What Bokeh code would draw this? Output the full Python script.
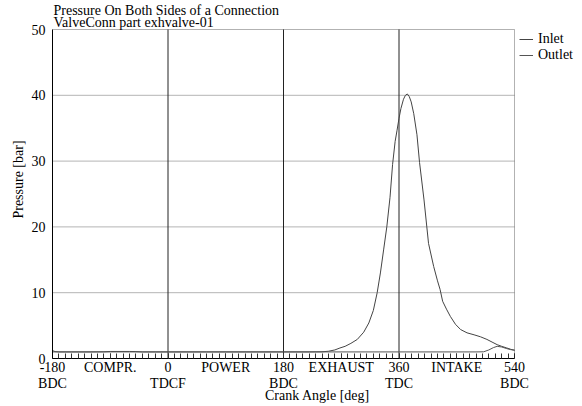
from bokeh.plotting import figure
from bokeh.models import FixedTicker, Legend, LegendItem, Range1d, Label, BoxAnnotation
from bokeh.embed import file_html
from bokeh.resources import INLINE

FONT = "Liberation Serif"

title_lines = ["Pressure On Both Sides of a Connection", "ValveConn part exhvalve-01"]
x_label = "Crank Angle [deg]"
y_label = "Pressure [bar]"
x_lo, x_hi = -180, 540
y_lo, y_hi = 0, 50
x_ticks = [-180, -90, 0, 90, 180, 270, 360, 450, 540]
x_tick_labels = ["-180\nBDC", "COMPR.", "0\nTDCF", "POWER", "180\nBDC",
                 "EXHAUST", "360\nTDC", "INTAKE", "540\nBDC"]
x_minor = list(range(-180, 541, 10))
y_ticks = [0, 10, 20, 30, 40, 50]
cycle_marks = [0, 180, 360]

inlet_angle = [-180, -176, -170, -150, -120, -100, -90, -60, -50, -40, -20, 0, 60, 120,
               180, 220, 240, 250, 260, 268, 276, 285, 295, 305, 313, 320, 326, 331,
               336, 341, 346, 350, 354, 357, 360, 363, 367, 370, 373, 376, 379, 383,
               388, 392, 399, 406, 414, 420, 424, 428, 434, 440, 448, 456, 466, 477,
               487, 497, 505, 513, 520, 528, 534, 540]
inlet_p = [1.2, 1.05, 1.0, 1.0, 1.0, 1.02, 1.07, 1.07, 1.05, 1.0, 1.0, 1.0, 1.0, 1.0,
           1.0, 1.0, 1.02, 1.1, 1.3, 1.6, 1.85, 2.3, 2.9, 4.0, 5.4, 7.3, 10.0, 13.0,
           16.5, 20.0, 24.5, 29.5, 33.0, 34.7, 36.5, 38.0, 39.4, 40.0, 40.2, 39.8, 39.0, 37.2,
           34.0, 29.8, 24.1, 17.5, 14.0, 11.8, 10.5, 8.7, 7.5, 6.4, 5.2, 4.4, 3.9, 3.6,
           3.3, 2.9, 2.5, 2.1, 1.85, 1.6, 1.4, 1.26]

outlet_angle = [-180, 0, 180, 360, 480, 492, 500, 507, 513, 520, 528, 534, 540]
outlet_p = [1.0, 1.0, 1.0, 1.0, 1.0, 1.02, 1.3, 1.65, 1.85, 1.75, 1.5, 1.35, 1.26]

# layout (pixels): plot box 52..514 x 29..358 inside a 582x406 page
W, H = 582, 406
BOX_L, BOX_R, BOX_T, BOX_B = 52, 514, 29, 358
x_end = x_hi + (W - BOX_R) * (x_hi - x_lo) / (BOX_R - BOX_L)
y_end = y_hi + BOX_T * (y_hi - y_lo) / (BOX_B - BOX_T)

p = figure(width=W, height=H, output_backend="svg", toolbar_location=None,
           x_range=Range1d(x_lo, x_end), y_range=Range1d(y_lo, y_end), title=None,
           min_border_left=BOX_L, min_border_right=0, min_border_top=0,
           min_border_bottom=H - BOX_B)
p.background_fill_color = "white"
p.border_fill_color = "white"
p.outline_line_color = None
p.xgrid.visible = False
p.ygrid.visible = False

# axes
xa = p.xaxis[0]
xa.bounds = (x_lo, x_hi)
xa.ticker = FixedTicker(ticks=x_ticks, minor_ticks=x_minor)
xa.major_label_overrides = dict(zip(x_ticks, x_tick_labels))
xa.major_tick_in = 5
xa.major_tick_out = 0
xa.minor_tick_in = 5
xa.minor_tick_out = 0
xa.major_tick_line_color = "#333333"
xa.minor_tick_line_color = "#333333"
xa.axis_line_color = "black"
xa.major_label_standoff = 1
xa.major_label_text_font = FONT
xa.major_label_text_font_size = "14px"
xa.major_label_text_color = "black"
xa.major_label_text_line_height = 1.1
xa.axis_label = x_label
xa.axis_label_text_font = FONT
xa.axis_label_text_font_size = "14px"
xa.axis_label_text_font_style = "normal"
xa.axis_label_text_color = "black"
xa.axis_label_standoff = -6

ya = p.yaxis[0]
ya.bounds = (y_lo, y_hi)
ya.ticker = FixedTicker(ticks=y_ticks)
ya.major_tick_in = 0
ya.major_tick_out = 0
ya.minor_tick_in = 0
ya.minor_tick_out = 0
ya.axis_line_color = "black"
ya.major_label_standoff = 7
ya.major_label_text_font = FONT
ya.major_label_text_font_size = "14px"
ya.major_label_text_color = "black"
ya.axis_label = y_label
ya.axis_label_text_font = FONT
ya.axis_label_text_font_size = "14px"
ya.axis_label_text_font_style = "normal"
ya.axis_label_text_color = "black"
ya.axis_label_standoff = 3

# horizontal grid lines (inner ticks only) and cycle marks, limited to the plot box
inner_y = y_ticks[1:-1]
p.segment(x0=[x_lo] * len(inner_y), x1=[x_hi] * len(inner_y), y0=inner_y, y1=inner_y,
          line_color="#b4b4b4", line_width=1)
p.segment(x0=cycle_marks, x1=cycle_marks, y0=[y_lo] * len(cycle_marks),
          y1=[y_hi] * len(cycle_marks), line_color="#222222", line_width=1)

r_in = p.line(inlet_angle, inlet_p, line_color="#444444", line_width=1)
r_out = p.line(outlet_angle, outlet_p, line_color="#555555", line_width=1)

# plot box outline
p.add_layout(BoxAnnotation(left=x_lo, right=x_hi, bottom=y_lo, top=y_hi,
                           fill_color=None, fill_alpha=0, line_color="black",
                           line_width=1, level="overlay"))

# title lines
p.add_layout(Label(x=x_lo, y=y_hi, x_offset=1, y_offset=19, text=title_lines[0],
                   text_font=FONT, text_font_size="14px", text_color="black",
                   text_baseline="alphabetic", text_align="left"))
p.add_layout(Label(x=x_lo, y=y_hi, x_offset=1, y_offset=7, text=title_lines[1],
                   text_font=FONT, text_font_size="14px", text_color="black",
                   text_baseline="alphabetic", text_align="left"))

legend = Legend(items=[LegendItem(label="Inlet", renderers=[r_in]),
                       LegendItem(label="Outlet", renderers=[r_out])],
                location=(519 - BOX_L, BOX_B - 63), padding=0, margin=0, spacing=0,
                glyph_width=14, glyph_height=14, label_height=14,
                label_standoff=5, label_text_font=FONT, label_text_font_size="14px",
                label_text_color="black", background_fill_alpha=0,
                border_line_alpha=0)
p.add_layout(legend)

open("out.html", "w").write(file_html(p, INLINE))
